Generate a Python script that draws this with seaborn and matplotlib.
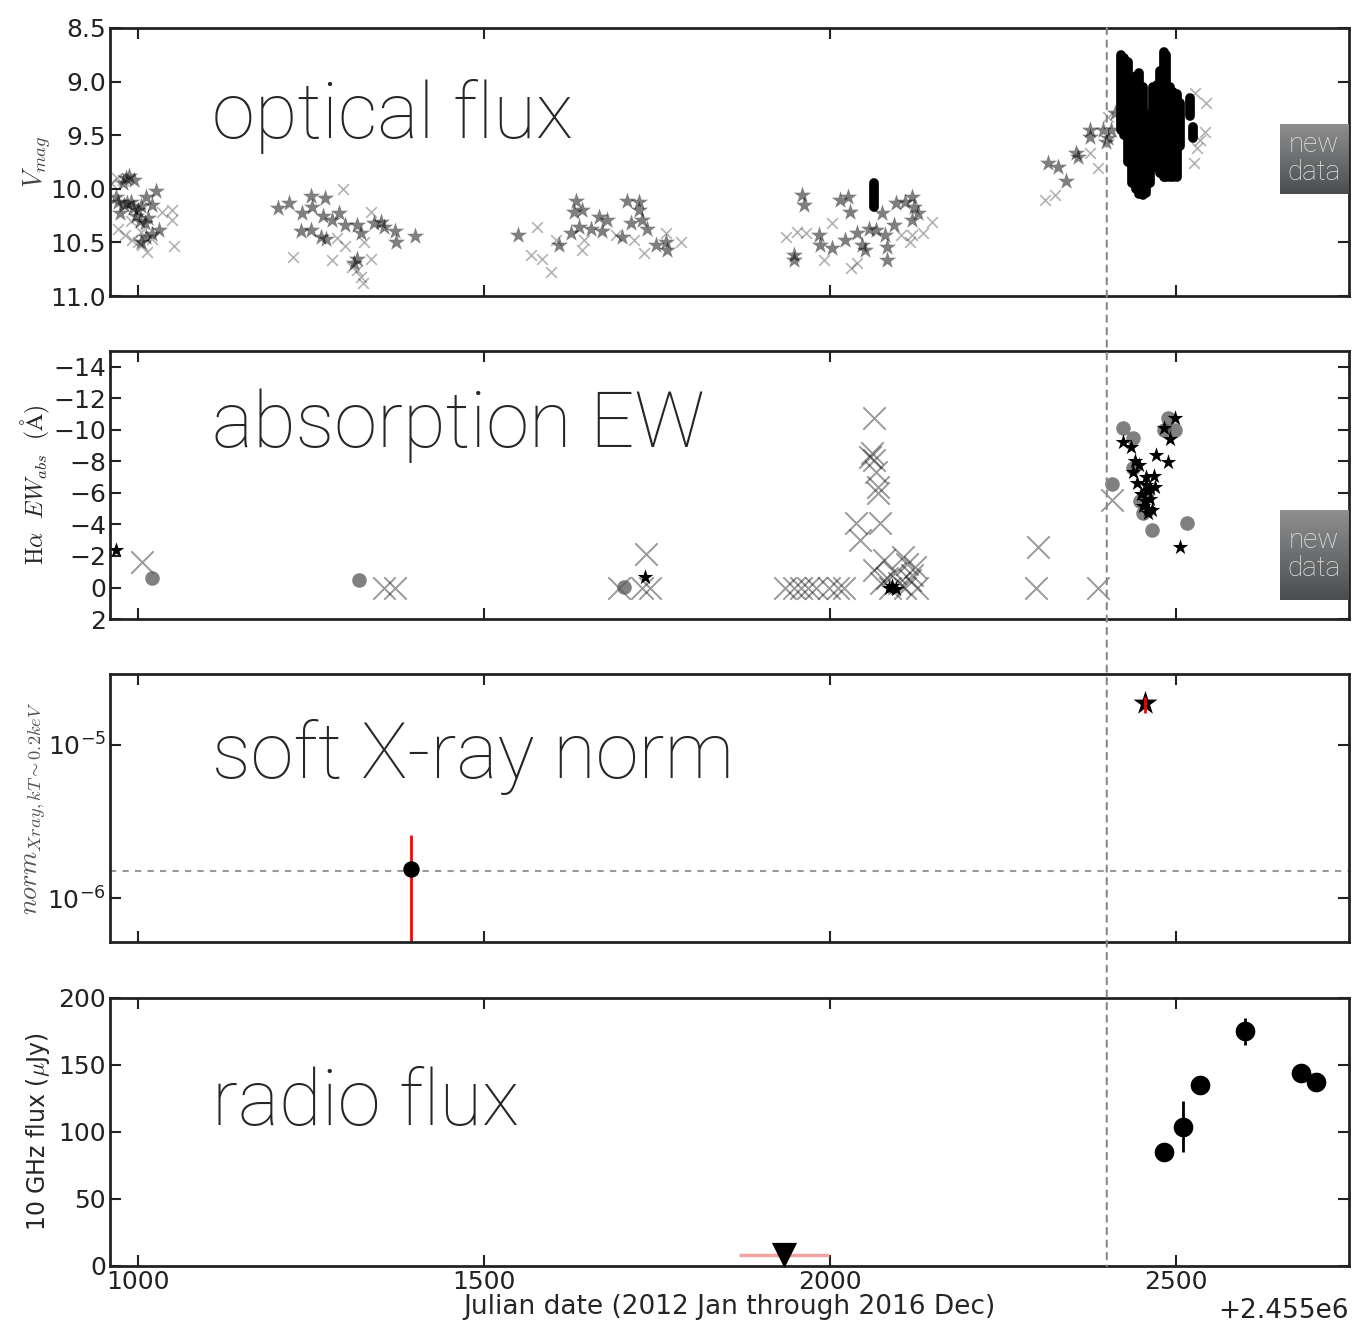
import numpy as np
import matplotlib
matplotlib.use("Agg")
import matplotlib.pyplot as plt
from matplotlib.ticker import MultipleLocator, ScalarFormatter, NullLocator
from matplotlib.patches import ConnectionPatch
from matplotlib.colors import LinearSegmentedColormap
import seaborn as sns

# Julian dates are stored as JD - 2455000 (the axis shows the same offset)
JD0 = 2455000
JD_SPLIT = 2400  # start of the new data

# ---- optical V magnitudes ------------------------------------------------
# stars (one survey), per season 2012 .. 2016
opt_star_jd = [968, 972, 978, 983, 988, 990, 980, 985, 993, 1000, 1005, 1012, 1027, 1020, 998, 1003, 1010, 1015, 1020, 1012, 1005, 975, 995, 1030,
               1202, 1219, 1238, 1251, 1252, 1270, 1267, 1281, 1291, 1299, 1236, 1251, 1265, 1272, 1317, 1323, 1342, 1352, 1356, 1371, 1373, 1400, 1317, 1313,
               1550, 1633, 1630, 1642, 1626, 1609, 1637, 1655, 1667, 1671, 1678, 1707, 1724, 1724, 1712, 1728, 1736, 1700, 1763, 1764, 1749,
               1959, 1962, 1948, 1948, 1984, 1986, 2003, 2015, 2026, 2029, 2022, 2039, 2046, 2051, 2066, 2075, 2080, 2082, 2082, 2092, 2096, 2109, 2118, 2121, 2128, 2118, 2056,
               2315, 2330, 2341, 2356, 2359, 2376, 2376, 2395, 2402, 2406, 2399, 2412]
opt_star_v = [10.08, 10.12, 9.95, 9.90, 9.88, 10.12, 10.15, 10.13, 10.18, 10.20, 10.16, 10.08, 10.02, 10.15, 10.25, 10.30, 10.32, 10.27, 10.42, 10.45, 10.50, 10.23, 9.92, 10.38,
              10.18, 10.13, 10.23, 10.07, 10.17, 10.09, 10.25, 10.29, 10.23, 10.34, 10.39, 10.38, 10.45, 10.47, 10.34, 10.41, 10.32, 10.31, 10.36, 10.39, 10.50, 10.44, 10.65, 10.69,
              10.43, 10.11, 10.22, 10.20, 10.41, 10.52, 10.36, 10.37, 10.26, 10.39, 10.29, 10.11, 10.12, 10.20, 10.32, 10.29, 10.37, 10.45, 10.50, 10.57, 10.52,
              10.06, 10.15, 10.62, 10.66, 10.43, 10.52, 10.55, 10.10, 10.08, 10.22, 10.48, 10.41, 10.52, 10.57, 10.38, 10.23, 10.43, 10.54, 10.66, 10.34, 10.13, 10.12, 10.08, 10.17, 10.23, 10.29, 10.37,
              9.76, 9.80, 9.93, 9.67, 9.70, 9.45, 9.52, 9.45, 9.53, 9.45, 9.56, 9.29]

# crosses (second survey)
opt_x_jd = [962, 970, 978, 971, 981, 992, 1000, 1006, 1014, 1020, 1035, 1050, 1049, 1053, 990, 1005,
            1296, 1224, 1281, 1288, 1327, 1337, 1337, 1317, 1323, 1325, 1310, 1299,
            1577, 1568, 1584, 1597, 1604, 1645, 1642, 1691, 1717, 1731, 1763, 1785,
            1936, 1952, 1965, 2003, 1991, 2031, 2039, 2102, 2118, 2135, 2147, 2116,
            2311, 2325, 2376, 2387, 2402, 2431, 2526, 2527, 2544, 2535, 2542, 2531]
opt_x_v = [9.95, 9.90, 9.92, 10.37, 10.43, 10.48, 10.50, 10.52, 10.59, 10.47, 10.22, 10.20, 10.29, 10.53, 10.30, 10.40,
           10.00, 10.64, 10.66, 10.46, 10.50, 10.22, 10.65, 10.76, 10.82, 10.88, 10.73, 10.53,
           10.36, 10.62, 10.65, 10.78, 10.48, 10.48, 10.57, 10.43, 10.48, 10.60, 10.41, 10.50,
           10.45, 10.40, 10.41, 10.32, 10.66, 10.74, 10.69, 10.43, 10.43, 10.41, 10.31, 10.50,
           10.10, 10.06, 9.67, 9.81, 9.33, 9.45, 9.76, 9.11, 9.20, 9.54, 9.47, 9.62]

# new dense photometry: nightly brightest / faintest V
new_jd = [2063, 2420, 2425, 2430, 2436, 2442, 2447, 2452, 2457, 2462, 2467, 2472, 2477, 2482, 2486, 2491, 2496, 2501, 2506, 2520, 2524]
new_v_top = [9.95, 8.75, 8.78, 8.82, 9.20, 8.95, 8.92, 9.05, 9.33, 9.30, 9.05, 9.03, 8.90, 8.72, 8.75, 9.05, 9.10, 9.12, 9.20, 9.15, 9.42]
new_v_bot = [10.17, 9.45, 9.50, 9.75, 9.95, 10.00, 10.05, 10.06, 10.04, 9.95, 9.80, 9.80, 9.85, 9.89, 9.89, 9.89, 9.89, 9.89, 9.60, 9.32, 9.53]

# ---- H-alpha absorption EW -------------------------------------------------
ew_x_jd = [1006, 1356, 1372, 1695, 1728, 1740, 1734,
           1935, 1948, 1958, 1968, 1980, 1998, 2012, 2020,
           2063, 2058, 2061, 2064, 2066, 2069, 2070, 2038, 2072, 2044,
           2078, 2105, 2123, 2094, 2116, 2074, 2087, 2108, 2126, 2063, 2083, 2100, 2118, 2112,
           2300, 2298, 2388, 2408]
ew_x_val = [-1.6, 0.0, 0.0, 0.0, 0.05, 0.0, -2.1,
            0.0, 0.0, 0.0, 0.0, 0.0, 0.0, 0.0, 0.0,
            -10.75, -8.3, -8.5, -8.1, -7.3, -6.4, -6.0, -4.1, -4.1, -3.0,
            -1.75, -1.95, -1.3, -0.9, -0.5, -0.3, 0.0, 0.0, 0.0, -1.1, -0.6, -0.3, -0.8, -1.5,
            -2.6, 0.0, 0.0, -5.55]
ew_dot_jd = [1020, 1320, 1702, 2408, 2423, 2438, 2438, 2483, 2489, 2498, 2465, 2516, 2453, 2448, 2458]
ew_dot_val = [-0.6, -0.5, -0.05, -6.55, -10.1, -9.5, -7.6, -10.0, -10.75, -10.0, -3.65, -4.1, -4.7, -5.5, -6.0]
ew_star_jd = [968, 1733, 2085, 2090, 2095, 2423, 2435, 2441, 2447, 2438, 2471, 2489, 2498, 2483, 2492,
              2444, 2456, 2468, 2459, 2462, 2453, 2465, 2459, 2450, 2470, 2506, 2455, 2460, 2457, 2463]
ew_star_val = [-2.35, -0.65, 0.0, -0.1, 0.1, -9.2, -8.9, -8.0, -7.8, -7.3, -8.4, -7.95, -10.75, -10.1, -9.4,
               -6.6, -7.0, -7.1, -6.1, -5.6, -5.2, -4.9, -4.7, -5.9, -6.4, -2.6, -5.5, -5.0, -6.5, -6.3]

# ---- soft X-ray normalisation ---------------------------------------------
xray_jd = [1395]
xray_norm = [1.55e-6]
xray_err_lo = [1.5e-6]
xray_err_hi = [1.05e-6]
xray_new_jd = [2455]
xray_new_norm = [1.88e-5]
xray_new_err_lo = [0.26e-5]
xray_new_err_hi = [0.18e-5]
xray_ref_level = 1.5e-6

# ---- 10 GHz radio ----------------------------------------------------------
radio_jd = [2482, 2510, 2534, 2599, 2680, 2703]
radio_flux = [85, 104, 135, 175, 144, 137.5]
radio_err = [3, 19, 6, 10, 7, 6]
radio_ul_jd = [1934]
radio_ul_flux = [8]
radio_ul_xerr = [65]

panel_names = ["optical flux", "absorption EW", "soft X-ray norm", "radio flux"]

# ---------------------------------------------------------------------------
sns.set_style("ticks")
plt.rcParams["font.family"] = ["DejaVu Sans"]
plt.rcParams["mathtext.fontset"] = "cm"
BIG_FONT = ["Roboto", "Open Sans", "DejaVu Sans"]

fig = plt.figure(figsize=(13.52, 13.27), dpi=100)
left, width, height = 0.0814, 0.9164, 0.2020
bottoms = [0.7769, 0.5335, 0.2901, 0.0460]
ax1 = fig.add_axes([left, bottoms[0], width, height])
ax2 = fig.add_axes([left, bottoms[1], width, height], sharex=ax1)
ax3 = fig.add_axes([left, bottoms[2], width, height], sharex=ax1)
ax4 = fig.add_axes([left, bottoms[3], width, height], sharex=ax1)
axes = [ax1, ax2, ax3, ax4]

# optical flux
sns.scatterplot(x=np.array(opt_x_jd) + JD0, y=opt_x_v, marker="x", s=60,
                color="k", alpha=0.3, linewidth=1.2, ax=ax1)
sns.scatterplot(x=np.array(opt_star_jd) + JD0, y=opt_star_v, marker="*", s=170,
                color="k", alpha=0.5, linewidth=0, ax=ax1)
ax1.vlines(np.array(new_jd) + JD0, new_v_top, new_v_bot, color="k", lw=7,
           capstyle="round")
ax1.set_ylim(11.0, 8.5)
ax1.set_yticks([8.5, 9.0, 9.5, 10.0, 10.5, 11.0])

# absorption EW
sns.scatterplot(x=np.array(ew_x_jd) + JD0, y=ew_x_val, marker="x", s=260,
                color="k", alpha=0.4, linewidth=1.4, ax=ax2)
sns.scatterplot(x=np.array(ew_dot_jd) + JD0, y=ew_dot_val, marker="o", s=110,
                color="#555555", alpha=0.75, linewidth=0, ax=ax2)
sns.scatterplot(x=np.array(ew_star_jd) + JD0, y=ew_star_val, marker="*", s=140,
                color="k", linewidth=0, ax=ax2)
ax2.set_ylim(2, -15)
ax2.set_yticks(range(-14, 3, 2))

# soft X-ray norm
ax3.set_yscale("log")
ax3.axhline(xray_ref_level, color="#999999", ls=(0, (3, 3)), lw=1.5)
ax3.errorbar(np.array(xray_jd) + JD0, xray_norm, yerr=[xray_err_lo, xray_err_hi],
             fmt="none", ecolor="red", elinewidth=2)
sns.scatterplot(x=np.array(xray_jd) + JD0, y=xray_norm, marker="o", s=140,
                color="k", linewidth=0, ax=ax3, zorder=3)
sns.scatterplot(x=np.array(xray_new_jd) + JD0, y=xray_new_norm, marker="*", s=330,
                color="k", linewidth=0, ax=ax3, zorder=3)
ax3.errorbar(np.array(xray_new_jd) + JD0, xray_new_norm, yerr=[xray_new_err_lo, xray_new_err_hi],
             fmt="none", ecolor="red", elinewidth=2, zorder=4)
ax3.set_ylim(5.2e-7, 2.9e-5)
ax3.set_yticks([1e-6, 1e-5])
ax3.yaxis.set_minor_locator(NullLocator())

# radio flux
ax4.errorbar(np.array(radio_ul_jd) + JD0, radio_ul_flux, xerr=radio_ul_xerr,
             fmt="none", ecolor="#f4a3a3", elinewidth=2.5)
ax4.errorbar(np.array(radio_jd) + JD0, radio_flux, yerr=radio_err,
             fmt="none", ecolor="k", elinewidth=2)
sns.scatterplot(x=np.array(radio_jd) + JD0, y=radio_flux, marker="o", s=200,
                color="k", linewidth=0, ax=ax4, zorder=3)
sns.scatterplot(x=np.array(radio_ul_jd) + JD0, y=radio_ul_flux, marker="v", s=330,
                color="k", linewidth=0, ax=ax4, zorder=3)
ax4.set_ylim(0, 200)
ax4.set_yticks([0, 50, 100, 150, 200])

# shared x axis
ax4.set_xlim(JD0 + 960, JD0 + 2750)
ax4.xaxis.set_major_locator(MultipleLocator(500))
ax4.xaxis.set_major_formatter(ScalarFormatter(useOffset=JD0))
ax4.set_xlabel("Julian date (2012 Jan through 2016 Dec)", fontsize=19, labelpad=0)
ax4.xaxis.get_offset_text().set_fontsize(19)

ax1.set_ylabel(r"$V_{mag}$", fontsize=19, color="#444444")
ax2.set_ylabel(r"$\mathrm{H}\alpha\ \ EW_{abs}\ \ (\mathrm{\AA})$", fontsize=17)
ax3.set_ylabel(r"$norm_{Xray,kT\sim0.2keV}$", fontsize=19, color="#555555")
ax4.set_ylabel(r"10 GHz flux ($\mu$Jy)", fontsize=17)
for ax, xl in zip(axes, [-0.046, -0.047, -0.050, -0.047]):
    ax.yaxis.set_label_coords(xl, 0.5)

label_y = [0.59, 0.642, 0.612, 0.524]
for ax, name, ly in zip(axes, panel_names, label_y):
    ax.text(0.0823, ly, name, transform=ax.transAxes, fontsize=56,
            family=BIG_FONT, fontweight="light", va="baseline")
    ax.tick_params(direction="in", top=True, right=True, length=8, width=1.5,
                   labelsize=18, labelcolor="#222222", color="#222222", pad=3)
    for sp in ax.spines.values():
        sp.set_linewidth(2)
        sp.set_color("#222222")
for ax in axes[:3]:
    ax.tick_params(labelbottom=False)

# dashed line marking the start of the new data, through all panels
con = ConnectionPatch(xyA=(JD0 + JD_SPLIT, 1), coordsA=ax1.get_xaxis_transform(),
                      xyB=(JD0 + JD_SPLIT, 0), coordsB=ax4.get_xaxis_transform(),
                      color="#888888", ls=(0, (3, 3)), lw=1.5, zorder=5)
fig.add_artist(con)

# "new data" badges
grad = LinearSegmentedColormap.from_list("badge", ["#8e8e8e", "#4b4e51"])
for bx in [[0.9467, 0.8538, 0.0503, 0.0528], [0.9467, 0.5479, 0.0503, 0.0678]]:
    bax = fig.add_axes(bx)
    bax.imshow(np.linspace(0, 1, 50).reshape(-1, 1), aspect="auto", cmap=grad,
               extent=[0, 1, 0, 1])
    bax.text(0.5, 0.5, "new\ndata", ha="center", va="center", color="#e6e6e6",
             fontsize=20, family=BIG_FONT, fontweight="light", linespacing=1.05)
    bax.axis("off")

fig.savefig("out.png", dpi=100)
